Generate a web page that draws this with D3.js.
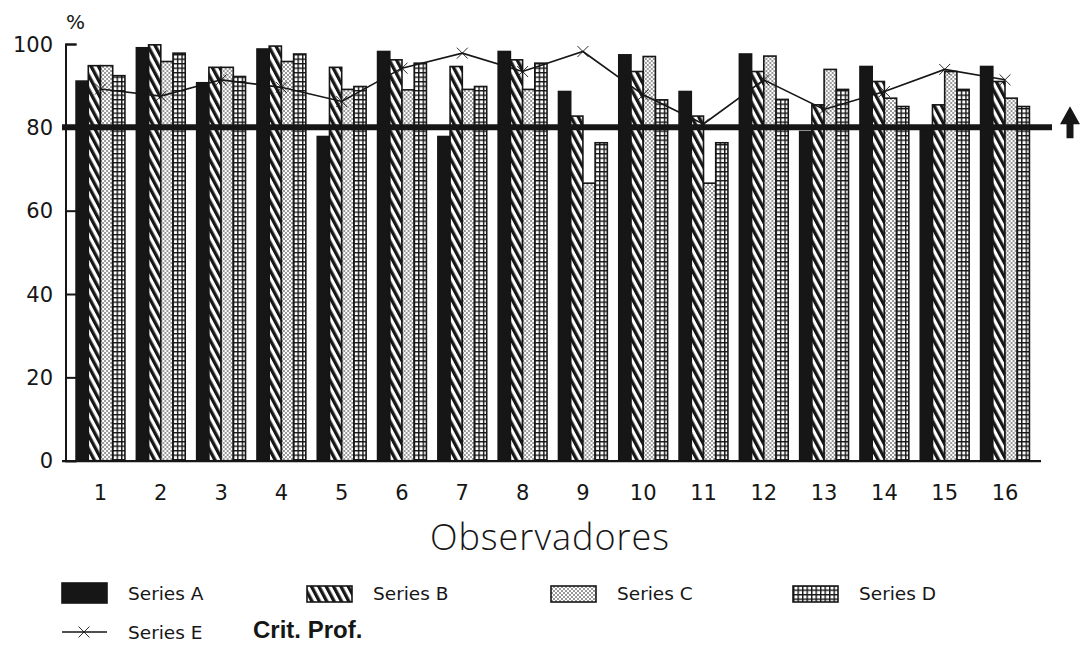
<!DOCTYPE html>
<html>
<head>
<meta charset="utf-8">
<script src="https://cdn.jsdelivr.net/npm/d3@7"></script>
<style>
  html, body { margin: 0; padding: 0; background: #fff; }
  svg { display: block; }
  text { fill: #161616; }
</style>
</head>
<body>
<svg id="chart" width="1080" height="652"></svg>
<script>
// Observers (x axis)
const observers = ["1","2","3","4","5","6","7","8","9","10","11","12","13","14","15","16"];
const barSeries = ["Series A", "Series B", "Series C", "Series D"];

// Percentages per observer
const seriesA = [91.1, 99.1, 90.7, 98.8, 77.8, 98.2, 77.8, 98.2, 88.6, 97.4, 88.6, 97.6, 79.0, 94.6, 79.4, 94.6];
const seriesB = [94.8, 99.8, 94.4, 99.5, 94.4, 96.2, 94.6, 96.2, 82.7, 93.4, 82.7, 93.4, 85.4, 91.0, 85.4, 91.0];
const seriesC = [94.8, 95.8, 94.4, 95.8, 89.1, 89.0, 89.1, 89.1, 66.6, 97.0, 66.6, 97.1, 93.9, 87.0, 93.4, 87.0];
const seriesD = [92.4, 97.8, 92.2, 97.6, 89.8, 95.4, 89.8, 95.4, 76.3, 86.6, 76.3, 86.7, 89.1, 85.0, 89.1, 85.0];
const seriesE = [89.2, 87.5, 91.4, 89.6, 86.2, 94.2, 97.8, 93.4, 98.2, 87.8, 80.8, 91.4, 84.3, 88.6, 93.9, 91.4];

// Professional criterion threshold
const critProf = 80;
const yTicks = [0, 20, 40, 60, 80, 100];

const ink = "#161616";
const svg = d3.select("#chart");

// ---- fill patterns -------------------------------------------------------
const defs = svg.append("defs");

const pStripe = defs.append("pattern").attr("id", "pB")
  .attr("patternUnits", "userSpaceOnUse").attr("width", 6.5).attr("height", 6.5)
  .attr("patternTransform", "rotate(-28)");
pStripe.append("rect").attr("width", 6.5).attr("height", 6.5).attr("fill", "#fff");
pStripe.append("rect").attr("width", 3.3).attr("height", 6.5).attr("fill", ink);

const pDots = defs.append("pattern").attr("id", "pC")
  .attr("patternUnits", "userSpaceOnUse").attr("width", 4).attr("height", 4);
pDots.append("rect").attr("width", 4).attr("height", 4).attr("fill", "#fff");
pDots.append("circle").attr("cx", 1).attr("cy", 1).attr("r", 0.8).attr("fill", ink);
pDots.append("circle").attr("cx", 3).attr("cy", 3).attr("r", 0.8).attr("fill", ink);

const pGrid = defs.append("pattern").attr("id", "pD")
  .attr("patternUnits", "userSpaceOnUse").attr("width", 4.5).attr("height", 4.5);
pGrid.append("rect").attr("width", 4.5).attr("height", 4.5).attr("fill", ink);
pGrid.append("rect").attr("x", 1.4).attr("y", 1.4).attr("width", 3.1).attr("height", 3.1).attr("fill", "#fff");

const fills = { "Series A": ink, "Series B": "url(#pB)", "Series C": "url(#pC)", "Series D": "url(#pD)" };

// ---- scales ---------------------------------------------------------------
const x0 = d3.scaleBand().domain(observers).range([70.35, 1035.15])
  .paddingInner(0.19).paddingOuter(0.095);
const x1 = d3.scaleBand().domain(barSeries).range([0, x0.bandwidth()]);
const y = d3.scaleLinear().domain([0, 100]).range([460.7, 44]);

const table = observers.map((o, i) => ({
  obs: o,
  values: [seriesA[i], seriesB[i], seriesC[i], seriesD[i]].map((v, k) => ({ key: barSeries[k], value: v }))
}));

// ---- bars -----------------------------------------------------------------
const groups = svg.append("g").selectAll("g").data(table).join("g")
  .attr("transform", d => `translate(${x0(d.obs)},0)`);

groups.selectAll("rect").data(d => d.values).join("rect")
  .attr("x", d => x1(d.key))
  .attr("y", d => y(d.value))
  .attr("width", x1.bandwidth())
  .attr("height", d => y(0) - y(d.value))
  .attr("fill", d => fills[d.key])
  .attr("stroke", ink)
  .attr("stroke-width", 1.6);

// ---- axes -----------------------------------------------------------------
const yAxis = d3.axisRight(y).tickValues(yTicks).tickSize(11).tickFormat("");
svg.append("g").attr("transform", "translate(65.5,0)").call(yAxis)
  .call(g => g.select(".domain").attr("stroke", ink).attr("stroke-width", 2))
  .call(g => g.selectAll(".tick line").attr("stroke", ink).attr("stroke-width", 2));

svg.append("g").selectAll("text").data(yTicks).join("text")
  .attr("x", 53).attr("y", d => y(d) + 7.5)
  .attr("text-anchor", "end")
  .attr("font-family", "DejaVu Sans, sans-serif").attr("font-size", 21)
  .text(d => d);

svg.append("line")
  .attr("x1", 62).attr("x2", 1041).attr("y1", y(0) + 0.5).attr("y2", y(0) + 0.5)
  .attr("stroke", ink).attr("stroke-width", 2.2);

svg.append("g").selectAll("text").data(observers).join("text")
  .attr("x", d => x0(d) + x0.bandwidth() / 2).attr("y", 500)
  .attr("text-anchor", "middle")
  .attr("font-family", "DejaVu Sans, sans-serif").attr("font-size", 21)
  .text(d => d);

svg.append("text").attr("x", 66).attr("y", 29)
  .attr("font-family", "DejaVu Sans, sans-serif").attr("font-size", 20)
  .text("%");

svg.append("text").attr("x", 550).attr("y", 550)
  .attr("text-anchor", "middle")
  .attr("font-family", "Open Sans, sans-serif").attr("font-weight", 300)
  .attr("font-size", 36).attr("letter-spacing", 1)
  .text("Observadores");

// ---- threshold line with arrow --------------------------------------------
svg.append("line")
  .attr("x1", 62).attr("x2", 1052).attr("y1", y(critProf)).attr("y2", y(critProf))
  .attr("stroke", ink).attr("stroke-width", 6);

const ay = y(critProf);
svg.append("path")
  .attr("d", `M1070,${ay - 21} L1080,${ay - 3} L1073.5,${ay - 3} L1073.5,${ay + 11} L1066.5,${ay + 11} L1066.5,${ay - 3} L1060,${ay - 3} Z`)
  .attr("fill", ink);

// ---- series E line --------------------------------------------------------
const cx = o => x0(o) + x0.bandwidth() / 2;
const lineE = d3.line().x((d, i) => cx(observers[i])).y(d => y(d));
svg.append("path").datum(seriesE)
  .attr("d", lineE).attr("fill", "none")
  .attr("stroke", ink).attr("stroke-width", 1.6);

const cross = d3.symbol().type(d3.symbolX).size(80);
svg.append("g").selectAll("path").data(seriesE).join("path")
  .attr("transform", (d, i) => `translate(${cx(observers[i])},${y(d)})`)
  .attr("d", cross).attr("fill", ink).attr("stroke", ink).attr("stroke-width", 0.9);

// ---- legend ---------------------------------------------------------------
const legendX = [62, 307, 551, 793];
const legend = svg.append("g").selectAll("g").data(barSeries).join("g")
  .attr("transform", (d, i) => `translate(${legendX[i]},0)`);
legend.append("rect")
  .attr("x", 0).attr("y", (d, i) => i === 0 ? 583 : 586)
  .attr("width", 45).attr("height", (d, i) => i === 0 ? 20 : 16)
  .attr("fill", d => fills[d]).attr("stroke", ink).attr("stroke-width", 1.6);
legend.append("text").attr("x", 66).attr("y", 600)
  .attr("font-family", "DejaVu Sans, sans-serif").attr("font-size", 18.5)
  .text(d => d);

svg.append("line").attr("x1", 62).attr("x2", 107).attr("y1", 632).attr("y2", 632)
  .attr("stroke", ink).attr("stroke-width", 1.6);
svg.append("path").attr("transform", "translate(84,632)")
  .attr("d", cross).attr("fill", ink).attr("stroke", ink).attr("stroke-width", 0.9);
svg.append("text").attr("x", 128).attr("y", 639)
  .attr("font-family", "DejaVu Sans, sans-serif").attr("font-size", 18.5)
  .text("Series E");
svg.append("text").attr("x", 253).attr("y", 638)
  .attr("font-family", "Liberation Sans, Arial, sans-serif").attr("font-weight", "bold")
  .attr("font-size", 24)
  .text("Crit. Prof.");
</script>
</body>
</html>
